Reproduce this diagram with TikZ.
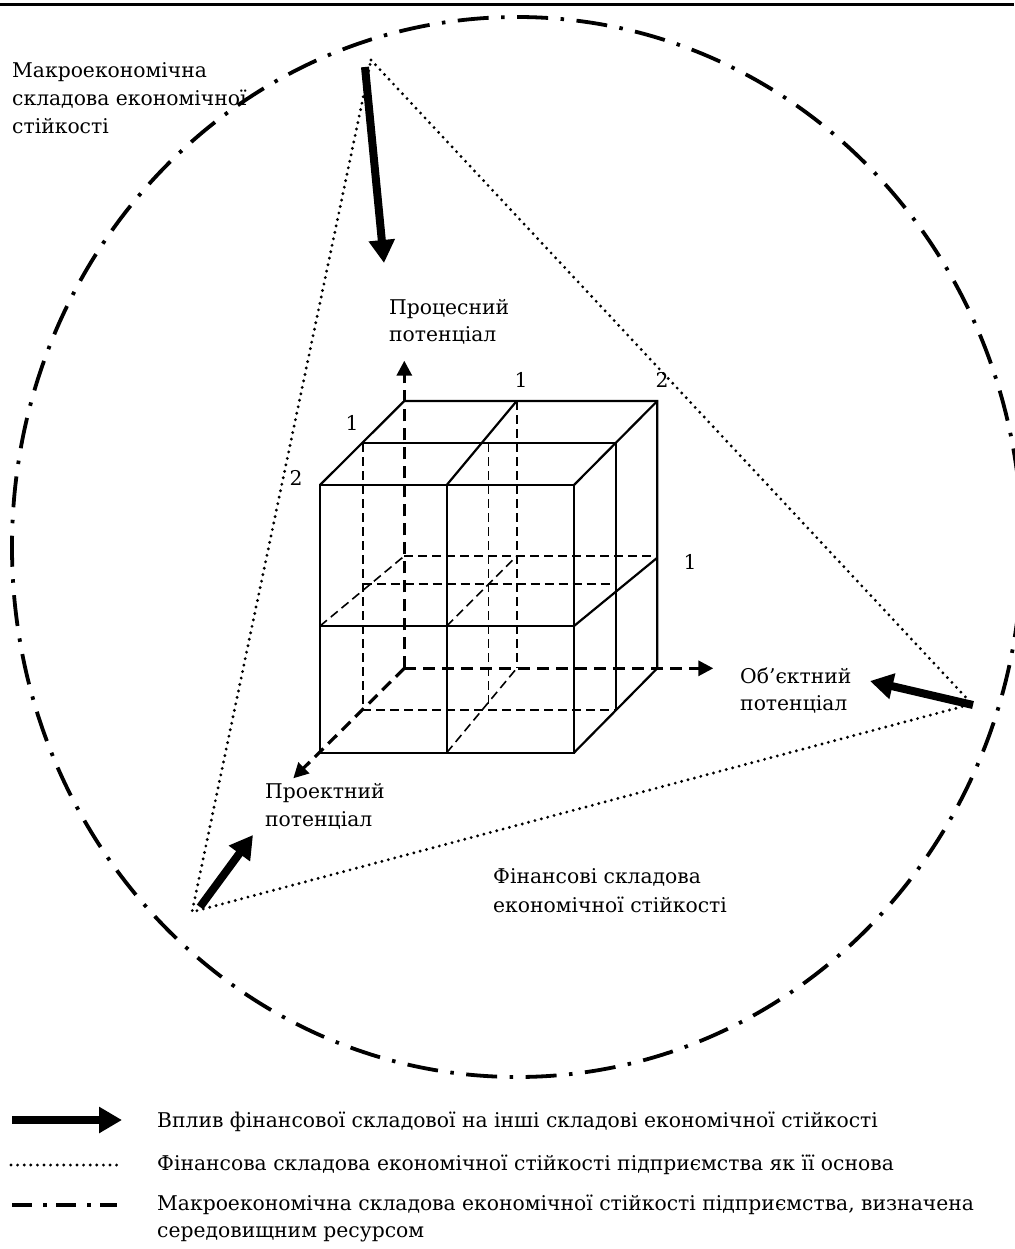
\documentclass[tikz,border=0pt]{standalone}
\usepackage{fontspec}
\setmainfont{DejaVu Serif}
\usetikzlibrary{arrows.meta}
\tikzset{
  lbl/.style={font=\fontsize{20.3}{28}\selectfont, inner sep=0pt, anchor=base west},
  num/.style={font=\fontsize{20.3}{28}\selectfont, inner sep=0pt},
  cubeline/.style={line width=2.2pt, line join=miter},
  hid/.style={line width=1.6pt, dash pattern=on 9pt off 5pt},
  axis/.style={line width=3.2pt, dash pattern=on 12pt off 7pt, -{Triangle[length=15pt,width=15pt]}},
  finline/.style={line width=3.2pt, line cap=round, dash pattern=on 0pt off 6.6pt},
  macroline/.style={line width=3.8pt, dash pattern=on 31pt off 12.5pt on 3.5pt off 12.5pt},
  legmacro/.style={line width=4.2pt, dash pattern=on 20pt off 11pt on 3.5pt off 9.5pt},
  impact/.style={line width=8pt, -{Triangle[length=23pt,width=25pt]}}
}
\begin{document}
\begin{tikzpicture}[x=1pt,y=-1pt]
\useasboundingbox (0,0) rectangle (1014,1249);
% top rule
\coordinate (ruleL) at (0,4.5);
\coordinate (ruleR) at (1014,4.5);
\draw[line width=3pt] (ruleL) -- (ruleR);
% macro ellipse
\coordinate (ctr) at (517,547);
\draw[macroline] (ctr) ellipse [x radius=505, y radius=530];
% triangle vertices
\coordinate (vT) at (371,60);
\coordinate (vR) at (972,704);
\coordinate (vL) at (192,912);
\draw[finline] (vT) -- (vR) -- (vL) -- cycle;
% impact arrows
\coordinate (a1s) at (365,67);  \coordinate (a1e) at (384,263);
\coordinate (a2s) at (973,705); \coordinate (a2e) at (870,681);
\coordinate (a3s) at (200,907); \coordinate (a3e) at (253,835);
\draw[impact] (a1s) -- (a1e);
\draw[impact] (a2s) -- (a2e);
\draw[impact] (a3s) -- (a3e);
% cube coordinates
\coordinate (O) at (404.3,668.3);
\coordinate (f1) at (320,485);   \coordinate (f2) at (446.7,485); \coordinate (f3) at (574,485);
\coordinate (f4) at (320,626);   \coordinate (f5) at (446.7,626); \coordinate (f6) at (574,626);
\coordinate (f7) at (320,752.7); \coordinate (f8) at (446.7,752.7); \coordinate (f9) at (574,752.7);
\coordinate (m1) at (362.7,443.3); \coordinate (m2) at (488.3,443.3); \coordinate (m3) at (615.7,443.3);
\coordinate (m4) at (362.7,584);   \coordinate (m6) at (615.7,584);
\coordinate (m7) at (362.7,710);   \coordinate (m8) at (488.3,710); \coordinate (m9) at (615.7,710);
\coordinate (b1) at (404.3,401); \coordinate (b2) at (516.7,401); \coordinate (b3) at (657.3,401);
\coordinate (b4) at (404.3,556); \coordinate (b5) at (516.7,556); \coordinate (b6) at (657.3,556);
\coordinate (b6r) at (657.3,557.7);
\coordinate (b8) at (516.7,668.3); \coordinate (b9) at (657.3,668.3);
% hidden lines
\draw[hid] (m1) -- (m7) -- (m9);
\draw[hid] (m2) -- (m8);
\draw[hid] (b2) -- (b8);
\draw[hid] (b4) -- (b6);
\draw[hid] (m4) -- (m6);
\draw[hid] (f4) -- (b4);
\draw[hid] (f5) -- (b5);
\draw[hid] (f8) -- (b8);
% axes
\coordinate (yax) at (404.3,360.7);
\coordinate (xax) at (713.3,668.3);
\coordinate (zax) at (293.3,778.3);
\draw[axis] (O) -- (yax);
\draw[axis] (O) -- (xax);
\draw[axis] (O) -- (zax);
% visible cube lines
\draw[cubeline] (f1) rectangle (f9);
\draw[cubeline] (f2) -- (f8);
\draw[cubeline] (f4) -- (f6);
\draw[cubeline] (b1) -- (b3) -- (b9) -- (f9);
\draw[cubeline] (m1) -- (m3) -- (m9);
\draw[cubeline] (f1) -- (b1);
\draw[cubeline] (f2) -- (b2);
\draw[cubeline] (f3) -- (b3);
\draw[cubeline] (f6) -- (b6r);
% numbers
\node[num] (n1) at (521,380) {1};
\node[num] (n2) at (662,380) {2};
\node[num] (n3) at (352,423) {1};
\node[num] (n4) at (296,478) {2};
\node[num] (n5) at (690,562) {1};
% labels
\node[lbl] (mk1) at (12,78) {Макроекономічна};
\node[lbl] (mk2) at (12,106) {складова економічної};
\node[lbl] (mk3) at (12,134) {стійкості};
\node[lbl] (pr1) at (389,314) {Процесний};
\node[lbl] (pr2) at (389,341) {потенціал};
\node[lbl] (ob1) at (740,683) {Об’єктний};
\node[lbl] (ob2) at (740,710) {потенціал};
\node[lbl] (pj1) at (265,798) {Проектний};
\node[lbl] (pj2) at (265,826) {потенціал};
\node[lbl] (fi1) at (493,883) {Фінансові складова};
\node[lbl] (fi2) at (493,912) {економічної стійкості};
% legend
\coordinate (l1s) at (12,1120);  \coordinate (l1e) at (122,1120);
\coordinate (l2s) at (11,1165);  \coordinate (l2e) at (117,1165);
\coordinate (l3s) at (12,1205);  \coordinate (l3e) at (117,1205);
\draw[impact] (l1s) -- (l1e);
\draw[finline] (l2s) -- (l2e);
\draw[legmacro] (l3s) -- (l3e);
\node[lbl] (lg1) at (157,1127) {Вплив фінансової складової на інші складові економічної стійкості};
\node[lbl] (lg2) at (157,1170) {Фінансова складова економічної стійкості підприємства як її основа};
\node[lbl] (lg3) at (157,1210) {Макроекономічна складова економічної стійкості підприємства, визначена};
\node[lbl] (lg4) at (157,1237) {середовищним ресурсом};
\end{tikzpicture}
\end{document}
